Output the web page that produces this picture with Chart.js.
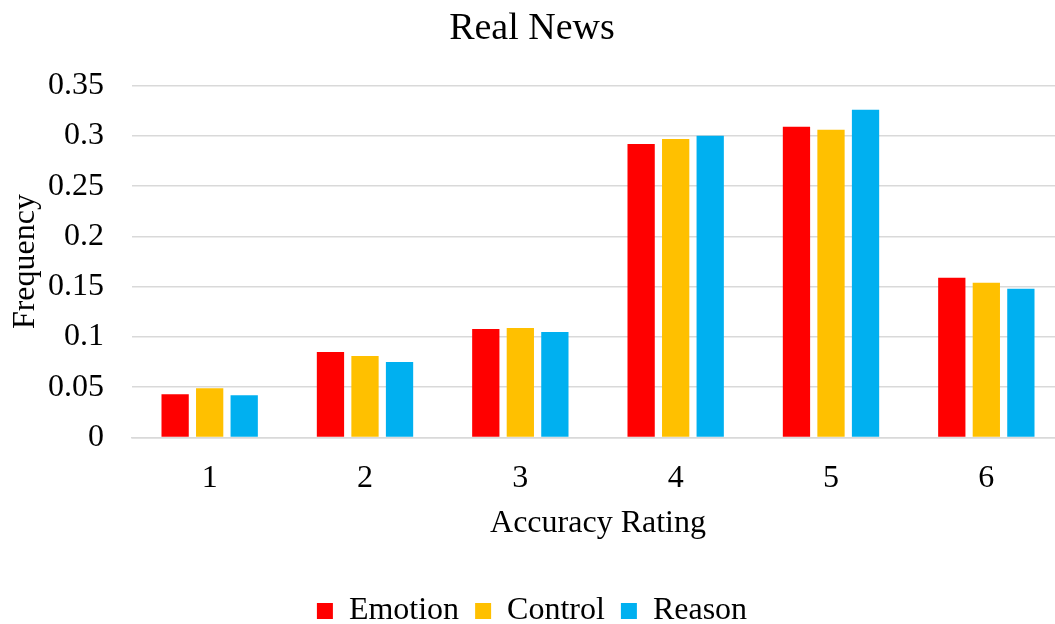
<!DOCTYPE html>
<html>
<head>
<meta charset="utf-8">
<title>Real News</title>
<script src="https://cdn.jsdelivr.net/npm/chart.js@4/dist/chart.umd.min.js"></script>
<style>
  html, body { margin: 0; padding: 0; background: #ffffff; overflow: hidden; }
  #wrap { width: 1064px; height: 637px; }
</style>
</head>
<body>
<div id="wrap"><canvas id="chart" width="1064" height="637"></canvas></div>
<script>
// Accuracy rating categories and frequency per condition
const categories = ['1', '2', '3', '4', '5', '6'];
const emotion = [0.043, 0.085, 0.108, 0.292, 0.309, 0.159];
const control = [0.049, 0.081, 0.109, 0.297, 0.306, 0.154];
const reason  = [0.042, 0.075, 0.105, 0.300, 0.326, 0.148];
const yTicks  = [0, 0.05, 0.1, 0.15, 0.2, 0.25, 0.3, 0.35];

const serif = "'Liberation Serif', 'Times New Roman', serif";
const gridColor = '#d9d9d9';

const makeSet = (label, data, color) => ({
  label, data,
  backgroundColor: color,
  borderWidth: 0,
  categoryPercentage: 0.667,
  barPercentage: 0.79
});

new Chart(document.getElementById('chart'), {
  type: 'bar',
  data: {
    labels: categories,
    datasets: [
      makeSet('Emotion', emotion, '#ff0000'),
      makeSet('Control', control, '#ffc000'),
      makeSet('Reason', reason, '#00b0f0')
    ]
  },
  options: {
    responsive: false,
    animation: false,
    layout: { padding: 0 },
    plugins: {
      title: {
        display: true,
        text: 'Real News',
        color: '#000',
        font: { family: serif, size: 38, weight: 'normal' },
        padding: { top: 6, bottom: 34 }
      },
      legend: {
        position: 'bottom',
        labels: {
          color: '#000',
          font: { family: serif, size: 32 },
          boxWidth: 16,
          boxHeight: 16,
          padding: 16
        }
      },
      tooltip: { enabled: false }
    },
    scales: {
      x: {
        afterFit: (scale) => { scale.height = 141.5; },
        grid: { display: false, drawTicks: false },
        border: { display: true, color: gridColor, width: 1.5 },
        ticks: { color: '#000', font: { family: serif, size: 32 }, padding: 22 },
        title: {
          display: true,
          text: 'Accuracy Rating',
          color: '#000',
          font: { family: serif, size: 32 },
          padding: { top: 0, bottom: 36 }
        }
      },
      y: {
        min: 0,
        max: 0.35,
        afterBuildTicks: (scale) => { scale.ticks = yTicks.map(v => ({ value: v })); },
        afterFit: (scale) => { scale.width = 132; },
        grid: { color: gridColor, lineWidth: 1.5, drawTicks: false },
        border: { display: false },
        ticks: {
          color: '#000',
          font: { family: serif, size: 32 },
          padding: 28,
          callback: (v) => String(+v.toFixed(2))
        },
        title: {
          display: true,
          text: 'Frequency',
          color: '#000',
          font: { family: serif, size: 32 },
          padding: { top: 6, bottom: 0 }
        }
      }
    }
  }
});
</script>
</body>
</html>
